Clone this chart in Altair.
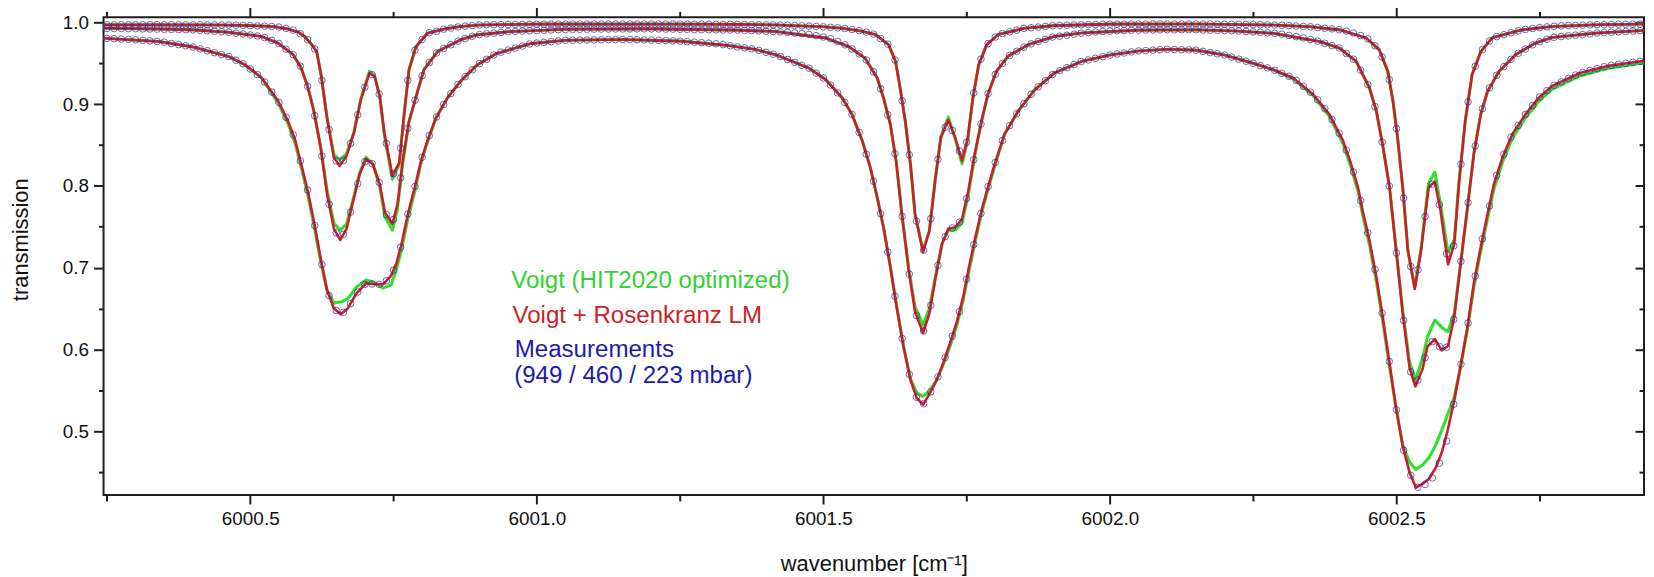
import altair as alt
import pandas as pd

FONT = "Liberation Sans"
INK = "#1e1e1e"
GREEN = "#2fe02f"
RED = "#cf1b2b"
PT_BLUE = "#2c2a9c"

X_DOMAIN = [6000.244, 6002.932]
Y_DOMAIN = [0.4221, 1.0061]
X_MAJOR = [6000.5, 6001.0, 6001.5, 6002.0, 6002.5]
X_MINOR = [6000.25, 6000.75, 6001.25, 6001.75, 6002.25, 6002.75]
Y_MAJOR = [0.5, 0.6, 0.7, 0.8, 0.9, 1.0]
Y_MINOR = [0.45, 0.55, 0.65, 0.75, 0.85, 0.95]

SERIES = ["949 mbar", "460 mbar", "223 mbar"]

# ---- 223 mbar : fitted curves ----
R223_X = [6000.244, 6000.35, 6000.45, 6000.50, 6000.54, 6000.565, 6000.584, 6000.595, 6000.606, 6000.616,
          6000.624, 6000.634, 6000.646, 6000.656, 6000.668, 6000.681, 6000.693, 6000.708, 6000.717, 6000.726,
          6000.734, 6000.748, 6000.760, 6000.769, 6000.777, 6000.789, 6000.809, 6000.84, 6000.867, 6000.90,
          6001.00, 6001.20, 6001.35, 6001.42, 6001.50, 6001.533, 6001.565, 6001.591, 6001.614, 6001.626,
          6001.634, 6001.643, 6001.652, 6001.660, 6001.674, 6001.685, 6001.695, 6001.705, 6001.718, 6001.730,
          6001.742, 6001.752, 6001.761, 6001.771, 6001.785, 6001.805, 6001.851, 6001.903, 6002.00, 6002.15,
          6002.285, 6002.35, 6002.401, 6002.447, 6002.470, 6002.485, 6002.494, 6002.502, 6002.511, 6002.520,
          6002.532, 6002.543, 6002.556, 6002.567, 6002.577, 6002.590, 6002.601, 6002.609, 6002.620, 6002.632,
          6002.647, 6002.667, 6002.719, 6002.771, 6002.85, 6002.932]
R223_Y = [.9969, .9970, .9968, .9960, .9948, .9920, .9880, .9826, .9740, .9640, .9340, .8830,
          .8346, .8245, .8366, .8650, .9056, .9380, .9340, .9096, .8650, .8123, .8285, .8914,
          .9420, .9700, .9866, .9920, .9948, .9968,
          .9978, .9980, .9975, .9968, .9945, .9927, .9895, .9850, .9725, .9520, .9197, .8790, .8265, .7657,
          .7190, .7450, .8060, .8590, .8810, .8590, .8310, .8590, .9076, .9480, .9725, .9850, .9927, .9960,
          .9978, .9980, .9968, .9945, .9908, .9810, .9665, .9400, .9035, .8590, .7980, .7210,
          .6740, .7210, .7980, .8050, .7697, .7040, .7290, .8020,
          .8790, .9360, .9640, .9810, .9908, .9950, .9970, .9980]
G223_Y = [.9969, .9970, .9968, .9960, .9948, .9920, .9880, .9826, .9740, .9640, .9340, .8830,
          .8380, .8320, .8390, .8660, .9066, .9400, .9350, .9090, .8620, .8083, .8260, .8900,
          .9420, .9700, .9866, .9920, .9948, .9968,
          .9978, .9980, .9975, .9968, .9945, .9927, .9895, .9850, .9725, .9520, .9197, .8790, .8265, .7657,
          .7210, .7450, .8060, .8600, .8840, .8580, .8270, .8560, .9076, .9480, .9725, .9850, .9927, .9960,
          .9978, .9980, .9968, .9945, .9908, .9810, .9665, .9400, .9035, .8590, .7980, .7210,
          .6760, .7240, .8030, .8170, .7770, .7190, .7350, .8040,
          .8790, .9360, .9640, .9810, .9908, .9950, .9970, .9980]

# ---- 460 mbar : fitted curves ----
R460_X = [6000.244, 6000.35, 6000.40, 6000.462, 6000.520, 6000.549, 6000.575, 6000.589, 6000.601, 6000.611,
          6000.623, 6000.634, 6000.646, 6000.657, 6000.668, 6000.679, 6000.691, 6000.702, 6000.714, 6000.726,
          6000.735, 6000.748, 6000.757, 6000.766, 6000.777, 6000.792, 6000.803, 6000.827, 6000.867, 6000.896,
          6000.95, 6001.05, 6001.20, 6001.35, 6001.417, 6001.504, 6001.544, 6001.573, 6001.594, 6001.605,
          6001.617, 6001.627, 6001.637, 6001.649, 6001.660, 6001.674, 6001.685, 6001.695, 6001.707, 6001.718,
          6001.730, 6001.742, 6001.753, 6001.764, 6001.776, 6001.787, 6001.802, 6001.822, 6001.857, 6001.903,
          6001.95, 6002.05, 6002.15, 6002.22, 6002.285, 6002.366, 6002.401, 6002.430, 6002.453, 6002.465,
          6002.476, 6002.488, 6002.499, 6002.511, 6002.523, 6002.533, 6002.546, 6002.554, 6002.567, 6002.579,
          6002.590, 6002.601, 6002.612, 6002.624, 6002.635, 6002.647, 6002.659, 6002.679, 6002.708, 6002.742,
          6002.771, 6002.85, 6002.932]
R460_Y = [.9927, .9915, .9908, .9879, .9826, .9745, .9604, .9440, .9197, .8914, .8467,
          .7900, .7475, .7340, .7475, .7798, .8144, .8330, .8265, .8022, .7677, .7535, .7779, .8306, .8792,
          .9157, .9420, .9644, .9786, .9847, .9885, .9915, .9920, .9905, .9887,
          .9810, .9705, .9560, .9320, .9076, .8750, .8306, .7657,
          .6968, .6460, .6205, .6440, .6846, .7290, .7475, .7494, .7596, .7940, .8387,
          .8790, .9117, .9400, .9583, .9725, .9826, .9870, .9905, .9910, .9895, .9866,
          .9765, .9684, .9520, .9197, .8914, .8500, .7980, .7250,
          .6440, .5772, .5548, .5772, .6034, .6128, .5990, .6043, .6400,
          .7049, .7737, .8387, .8874, .9157, .9400, .9604, .9745, .9814, .9870, .9900]
G460_Y = [.9927, .9915, .9908, .9879, .9826, .9745, .9604, .9440, .9197, .8914, .8467,
          .7950, .7540, .7460, .7530, .7820, .8160, .8350, .8270, .7990, .7620, .7460, .7720, .8270, .8780,
          .9157, .9420, .9644, .9786, .9847, .9885, .9915, .9920, .9905, .9887,
          .9810, .9705, .9560, .9320, .9076, .8750, .8306, .7657,
          .6990, .6520, .6300, .6500, .6870, .7290, .7460, .7460, .7550, .7890, .8360,
          .8790, .9117, .9400, .9583, .9725, .9826, .9870, .9905, .9910, .9895, .9866,
          .9765, .9684, .9520, .9197, .8914, .8500, .7980, .7250,
          .6470, .5840, .5629, .5900, .6150, .6360, .6270, .6217, .6450,
          .7049, .7737, .8387, .8874, .9157, .9400, .9604, .9745, .9814, .9870, .9900]

# ---- 949 mbar : fitted curves ----
R949_X = [6000.244, 6000.341, 6000.399, 6000.462, 6000.491, 6000.520, 6000.549, 6000.566, 6000.578, 6000.589,
          6000.601, 6000.612, 6000.623, 6000.634, 6000.646, 6000.658, 6000.670, 6000.685, 6000.702, 6000.717,
          6000.732, 6000.746, 6000.755, 6000.764, 6000.775, 6000.787, 6000.798, 6000.809, 6000.824, 6000.844,
          6000.867, 6000.896, 6000.93, 6000.99, 6001.05, 6001.15, 6001.25, 6001.33, 6001.38, 6001.417,
          6001.475, 6001.504, 6001.533, 6001.550, 6001.568, 6001.582, 6001.594, 6001.605, 6001.617, 6001.628,
          6001.640, 6001.652, 6001.663, 6001.674, 6001.686, 6001.698, 6001.709, 6001.721, 6001.733, 6001.744,
          6001.753, 6001.764, 6001.776, 6001.787, 6001.799, 6001.816, 6001.840, 6001.868, 6001.903, 6001.95,
          6002.00, 6002.05, 6002.10, 6002.15, 6002.20, 6002.25, 6002.285, 6002.320, 6002.355, 6002.383,
          6002.407, 6002.421, 6002.433, 6002.441, 6002.453, 6002.465, 6002.476, 6002.488, 6002.499, 6002.511,
          6002.523, 6002.534, 6002.546, 6002.557, 6002.569, 6002.580, 6002.589, 6002.601, 6002.612, 6002.624,
          6002.635, 6002.647, 6002.659, 6002.670, 6002.685, 6002.702, 6002.725, 6002.748, 6002.771, 6002.82,
          6002.87, 6002.932]
R949_Y = [.9806, .9765, .9700, .9583, .9480, .9320,
          .9035, .8790, .8570, .8265, .7920, .7535, .7110, .6724,
          .6500, .6430, .6500, .6684, .6810, .6797, .6797, .6907, .7050, .7290, .7657, .7980, .8306, .8550,
          .8830, .9076, .9280, .9480, .9620, .9740, .9780, .9790, .9770, .9720, .9670, .9604,
          .9440, .9300, .9076, .8874, .8550, .8224, .7860, .7494, .7008, .6520, .6034,
          .5629, .5406, .5325, .5467, .5629, .5830, .6076, .6340, .6643, .6968, .7333, .7700, .7980, .8265,
          .8630, .8914, .9170, .9380, .9520, .9600, .9650, .9670, .9660, .9600, .9500, .9420,
          .9320, .9117, .8874, .8550, .8265, .7980, .7700, .7333, .6886, .6400, .5830, .5305,
          .4818, .4494, .4312, .4360, .4420, .4560, .4760, .5000, .5380, .5800, .6277, .6806,
          .7250, .7657, .8020, .8346, .8630, .8874, .9076, .9218, .9380, .9470, .9530]
G949_Y = [.9806, .9765, .9700, .9583, .9480, .9320,
          .9010, .8760, .8530, .8225, .7875, .7490, .7075, .6720,
          .6570, .6580, .6620, .6760, .6850, .6820, .6750, .6790, .6980, .7220, .7600, .7930, .8280, .8530,
          .8830, .9076, .9280, .9480, .9620, .9740, .9780, .9790, .9770, .9720, .9670, .9604,
          .9440, .9300, .9076, .8874, .8550, .8224, .7860, .7494, .7008, .6520, .6034,
          .5640, .5470, .5426, .5500, .5630, .5810, .6040, .6300, .6600, .6920, .7290, .7660, .7950, .8240,
          .8630, .8914, .9170, .9380, .9520, .9600, .9650, .9670, .9660, .9600, .9500, .9420,
          .9310, .9100, .8850, .8515, .8225, .7935, .7650, .7280, .6830, .6350, .5790, .5290,
          .4830, .4620, .4534, .4590, .4680, .4840, .5030, .5200, .5420, .5790, .6250, .6760,
          .7200, .7600, .7960, .8290, .8580, .8830, .9030, .9180, .9345, .9440, .9505]

# ---- measurements (sampled every 0.0125 cm-1 from 6000.25) ----
MEAS_START = 6000.25
MEAS_STEP = 0.0125
M223 = [.9969, .9969, .9970, .9970, .9970, .9970, .9970, .9970,
        .9970, .9970, .9970, .9969, .9969, .9969, .9969, .9968,
        .9968, .9967, .9965, .9963, .9960, .9956, .9953, .9949,
        .9942, .9925, .9905, .9860, .9787, .9675, .9290, .8690,
        .8306, .8310, .8520, .8870, .9207, .9360, .9123, .8520,
        .8150, .8460, .9290, .9660, .9790, .9873, .9890, .9917,
        .9930, .9943, .9953, .9960, .9968, .9970, .9971, .9972,
        .9973, .9974, .9975, .9976, .9977, .9977, .9978, .9978,
        .9978, .9979, .9979, .9979, .9979, .9980, .9980, .9980,
        .9980, .9980, .9980, .9980, .9980, .9980, .9979, .9979,
        .9978, .9978, .9977, .9977, .9976, .9976, .9975, .9975,
        .9975, .9973, .9971, .9970, .9969, .9969, .9967, .9965,
        .9962, .9958, .9954, .9950, .9945, .9939, .9932, .9925,
        .9912, .9899, .9880, .9856, .9800, .9733, .9540, .9040,
        .8380, .7570, .7214, .7600, .8325, .8717, .8680, .8427,
        .8534, .9137, .9550, .9740, .9820, .9863, .9884, .9905,
        .9926, .9934, .9942, .9950, .9958, .9962, .9965, .9968,
        .9970, .9972, .9974, .9976, .9977, .9978, .9978, .9979,
        .9979, .9979, .9980, .9980, .9980, .9980, .9980, .9980,
        .9980, .9979, .9979, .9978, .9977, .9976, .9975, .9975,
        .9974, .9972, .9969, .9967, .9964, .9960, .9955, .9950,
        .9945, .9936, .9928, .9920, .9909, .9893, .9870, .9838,
        .9798, .9713, .9577, .9300, .8700, .7850, .7014, .6975,
        .7625, .8020, .7770, .7170, .7267, .8265, .9028, .9463,
        .9666, .9772, .9825, .9849, .9872, .9896, .9913, .9925,
        .9935, .9945, .9952, .9957, .9960, .9963, .9966, .9968,
        .9970, .9972, .9974, .9976, .9977, .9978, .9979]
M460 = [.9926, .9925, .9924, .9923, .9921, .9920, .9918, .9917,
        .9915, .9914, .9912, .9910, .9908, .9903, .9897, .9891,
        .9885, .9879, .9868, .9857, .9845, .9833, .9814, .9780,
        .9742, .9672, .9604, .9464, .9217, .8858, .8364, .7776,
        .7426, .7408, .7680, .8028, .8296, .8273, .8042, .7650,
        .7590, .8100, .8705, .9048, .9348, .9508, .9625, .9680,
        .9726, .9770, .9803, .9829, .9850, .9861, .9868, .9877,
        .9885, .9889, .9893, .9897, .9900, .9903, .9906, .9909,
        .9912, .9914, .9915, .9916, .9917, .9918, .9918, .9919,
        .9919, .9920, .9920, .9920, .9920, .9919, .9918, .9917,
        .9916, .9914, .9912, .9910, .9909, .9908, .9907, .9906,
        .9905, .9902, .9898, .9895, .9891, .9888, .9883, .9877,
        .9870, .9862, .9852, .9837, .9820, .9800, .9766, .9725,
        .9675, .9615, .9540, .9396, .9187, .8870, .8395, .7628,
        .6922, .6415, .6226, .6540, .7030, .7380, .7486, .7557,
        .7846, .8320, .8757, .9130, .9363, .9496, .9595, .9646,
        .9697, .9737, .9765, .9792, .9820, .9831, .9842, .9855,
        .9868, .9875, .9882, .9888, .9893, .9897, .9900, .9903,
        .9905, .9906, .9907, .9908, .9909, .9909, .9910, .9910,
        .9910, .9907, .9905, .9902, .9900, .9897, .9893, .9888,
        .9883, .9878, .9871, .9865, .9855, .9840, .9825, .9810,
        .9790, .9770, .9744, .9715, .9686, .9620, .9550, .9415,
        .9240, .8970, .8537, .8000, .7180, .6357, .5727, .5626,
        .5900, .6095, .6036, .6028, .6368, .7078, .7796, .8488,
        .8945, .9200, .9352, .9459, .9548, .9621, .9673, .9725,
        .9764, .9794, .9817, .9826, .9835, .9843, .9850, .9858,
        .9870, .9875, .9879, .9884, .9888, .9893, .9897]
M949 = [.9804, .9800, .9796, .9792, .9786, .9780, .9773, .9766,
        .9758, .9741, .9727, .9713, .9698, .9676, .9652, .9628,
        .9605, .9582, .9537, .9493, .9430, .9361, .9271, .9148,
        .9021, .8840, .8625, .8306, .7950, .7516, .7040, .6659,
        .6477, .6456, .6561, .6703, .6795, .6801, .6797, .6840,
        .6970, .7250, .7657, .7994, .8350, .8615, .8842, .8996,
        .9129, .9240, .9335, .9420, .9496, .9548, .9600, .9635,
        .9660, .9685, .9710, .9735, .9747, .9755, .9763, .9772,
        .9780, .9781, .9783, .9784, .9785, .9786, .9788, .9789,
        .9790, .9789, .9787, .9785, .9783, .9780, .9777, .9773,
        .9770, .9764, .9758, .9751, .9745, .9737, .9728, .9713,
        .9700, .9688, .9675, .9657, .9634, .9611, .9581, .9546,
        .9511, .9475, .9440, .9380, .9320, .9234, .9137, .9020,
        .8874, .8654, .8387, .8057, .7660, .7190, .6653, .6135,
        .5697, .5416, .5337, .5484, .5666, .5902, .6164, .6464,
        .6860, .7283, .7664, .7992, .8286, .8555, .8737, .8884,
        .9005, .9120, .9212, .9287, .9362, .9410, .9446, .9483,
        .9520, .9540, .9560, .9580, .9600, .9613, .9625, .9638,
        .9650, .9655, .9660, .9665, .9670, .9668, .9665, .9663,
        .9660, .9645, .9630, .9615, .9600, .9575, .9550, .9525,
        .9500, .9471, .9443, .9413, .9377, .9341, .9291, .9218,
        .9146, .9053, .8944, .8813, .8645, .8438, .8170, .7822,
        .7425, .6979, .6444, .5854, .5264, .4768, .4461, .4315,
        .4350, .4430, .4610, .4880, .5330, .5820, .6325, .6898,
        .7352, .7756, .8129, .8388, .8597, .8740, .8874, .8984,
        .9088, .9165, .9231, .9272, .9314, .9355, .9389, .9412,
        .9434, .9457, .9475, .9487, .9499, .9511, .9523]

# ---- in-plot legend text ----
NOTE_TEXT = ["Voigt (HIT2020 optimized)", "Voigt + Rosenkranz LM", "Measurements", "(949 / 460 / 223 mbar)"]
NOTE_X = [6000.9555, 6000.9575, 6000.9615, 6000.9605]
NOTE_Y = [0.6757, 0.6326, 0.5913, 0.5589]
NOTE_COLOR = ["#33d033", "#cc1f28", "#1c1caa", "#1c1caa"]

# ---------------- build tables ----------------
fits = [(SERIES[0], R949_X, R949_Y, G949_Y),
        (SERIES[1], R460_X, R460_Y, G460_Y),
        (SERIES[2], R223_X, R223_Y, G223_Y)]
red_rows, green_rows = [], []
for name, xs_, rs, gs in fits:
    assert len(xs_) == len(rs) == len(gs), name
    for x, r, g in zip(xs_, rs, gs):
        red_rows.append({"x": x, "y": r, "series": name})
        green_rows.append({"x": x, "y": g, "series": name})
red_df = pd.DataFrame(red_rows)
green_df = pd.DataFrame(green_rows)

assert len(M223) == len(M460) == len(M949)
meas_x = [round(MEAS_START + MEAS_STEP * i, 4) for i in range(len(M223))]
meas_rows = []
for name, ys_ in zip(SERIES, [M949, M460, M223]):
    for x, y in zip(meas_x, ys_):
        meas_rows.append({"x": x, "y": y, "series": name})
meas_df = pd.DataFrame(meas_rows)

note_df = pd.DataFrame({"x": NOTE_X, "y": NOTE_Y, "label": NOTE_TEXT, "color": NOTE_COLOR})

# ---------------- scales & axes ----------------
xs = alt.Scale(domain=X_DOMAIN, nice=False, zero=False)
ys = alt.Scale(domain=Y_DOMAIN, nice=False, zero=False)


def tick_axis(**kw):
    base = dict(grid=False, domain=False, labels=False, title=None,
                tickColor=INK, tickWidth=2)
    base.update(kw)
    return alt.Axis(**base)


x_main = alt.Axis(orient="bottom", values=X_MAJOR, format=".1f", grid=False, domain=False,
                  tickColor=INK, tickWidth=2, tickSize=9, labelFlush=False,
                  labelFont=FONT, labelFontSize=19, labelColor="#111111", labelPadding=6,
                  title="wavenumber [cm⁻¹]", titleFont=FONT, titleFontSize=22,
                  titleFontWeight="normal", titleColor="#111111",
                  titleX=774, titleY=76, titleBaseline="alphabetic", titleAlign="center")
y_main = alt.Axis(orient="left", values=Y_MAJOR, format=".1f", grid=False, domain=False,
                  tickColor=INK, tickWidth=2, tickSize=10,
                  labelFont=FONT, labelFontSize=19, labelColor="#111111", labelPadding=5,
                  title="transmission", titleFont=FONT, titleFontSize=22,
                  titleFontWeight="normal", titleColor="#111111", titleAngle=270,
                  titleX=-76, titleY=223, titleBaseline="alphabetic", titleAlign="center")

X = lambda axis: alt.X("x:Q", scale=xs, axis=axis)
Y = lambda axis: alt.Y("y:Q", scale=ys, axis=axis)

green = alt.Chart(green_df).mark_line(color=GREEN, strokeWidth=3.1, clip=True, strokeJoin="round").encode(
    x=X(x_main), y=Y(y_main), detail="series:N")
red = alt.Chart(red_df).mark_line(color=RED, strokeWidth=2.6, clip=True, strokeJoin="round").encode(
    x=X(None), y=Y(None), detail="series:N")
points = alt.Chart(meas_df).mark_point(shape="circle", filled=False, size=44, strokeWidth=1,
                                       color=PT_BLUE, opacity=0.72, clip=True).encode(
    x=X(None), y=Y(None), detail="series:N")
notes = alt.Chart(note_df).mark_text(align="left", baseline="alphabetic", font=FONT, fontSize=24.2).encode(
    x=X(None), y=Y(None), text="label:N", color=alt.Color("color:N", scale=None))

ax_a = alt.Chart(meas_df).mark_point(opacity=0, size=1).encode(
    x=X(tick_axis(orient="bottom", values=X_MINOR, tickSize=6)),
    y=Y(tick_axis(orient="left", values=Y_MINOR, tickSize=5)))
ax_b = alt.Chart(meas_df).mark_point(opacity=0, size=1).encode(
    x=X(tick_axis(orient="top", values=X_MAJOR, tickSize=10)),
    y=Y(tick_axis(orient="right", values=Y_MAJOR, tickSize=9, offset=-9)))
ax_c = alt.Chart(meas_df).mark_point(opacity=0, size=1).encode(
    x=X(tick_axis(orient="top", values=X_MINOR, tickSize=6)),
    y=Y(tick_axis(orient="right", values=Y_MINOR, tickSize=5, offset=-5)))

chart = alt.layer(green, red, points, notes, ax_a, ax_b, ax_c).resolve_axis(
    x="independent", y="independent"
).properties(
    width=1548, height=480,
    autosize=alt.AutoSizeParams(type="none"),
    padding={"left": 96, "top": 8, "right": 2, "bottom": 80},
    background="white",
).configure_view(stroke=INK, strokeWidth=2)

chart.save("out.html", embed_options={"renderer": "svg", "actions": False})
